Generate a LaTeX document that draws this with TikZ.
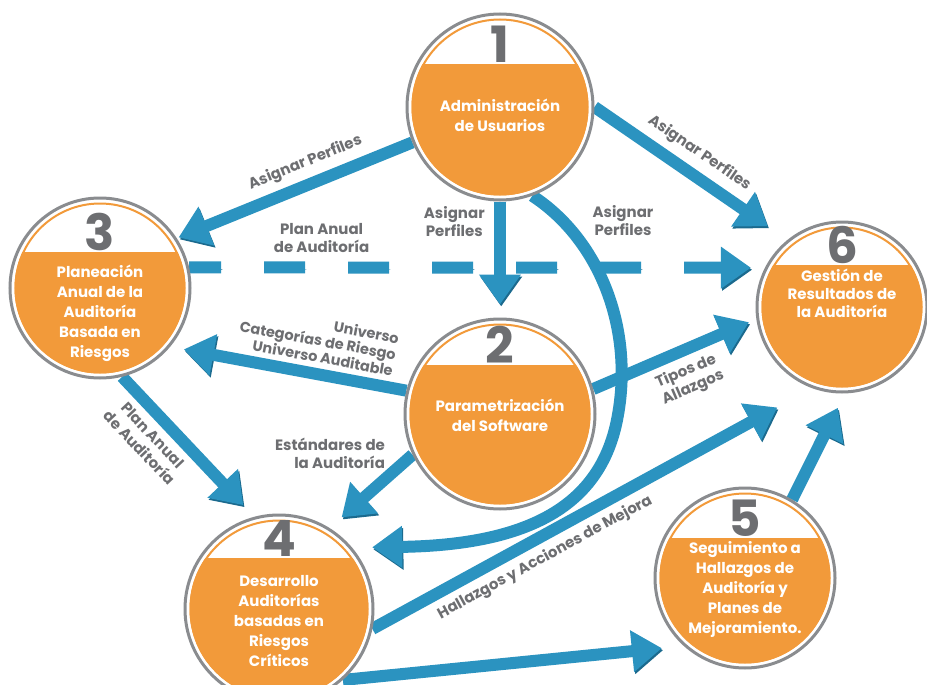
\documentclass[tikz,border=0pt]{standalone}
\usepackage{fontspec}
\setmainfont{Poppins}
\usetikzlibrary{arrows.meta, positioning, calc}
\pgfdeclarelayer{background}
\pgfsetlayers{background,main}
\definecolor{flowblue}{HTML}{2B93C0}
\definecolor{flowdark}{HTML}{1B6A8E}
\definecolor{stageorange}{HTML}{F29A3A}
\definecolor{ringgray}{HTML}{8A8C8F}
\definecolor{numgray}{HTML}{6D6E71}
\definecolor{labelgray}{HTML}{6D6E71}

\begin{document}
\begin{tikzpicture}[
        x=1pt, y=-1pt,
        stage/.style 2 args={
            circle,
            draw=ringgray,
            line width=3pt,
            fill=white,
            minimum size=2*#1,
            inner sep=0pt,
            path picture={
                \begin{scope}
                    \clip ([yshift=#2]path picture bounding box.west) rectangle (path picture bounding box.south east);
                    \fill[stageorange] (path picture bounding box.center) circle [radius=#1-4.5pt];
                \end{scope}
                \draw[stageorange, line width=2pt] (path picture bounding box.center) circle [radius=#1-5.5pt];
            }
        },
        stagenum/.style={
            font=\fontsize{50}{50}\selectfont\bfseries,
            text=numgray,
            anchor=base,
            inner sep=0pt
        },
        stagetext/.style={
            font=\fontsize{15}{20}\selectfont\bfseries,
            text=white,
            align=center
        },
        flow/.style={
            draw=flowblue,
            line width=12pt,
            -{Triangle[width=40pt, length=30pt]},
            preaction={draw=flowdark, transform canvas={shift={(1.2pt,-2pt)}}}
        },
        flowdash/.style={
            draw=flowblue,
            line width=12pt,
            dash pattern=on 41pt off 43pt,
            dash phase=9pt,
            -{Triangle[width=40pt, length=30pt]},
            preaction={draw=flowdark, dash pattern=on 41pt off 43pt, dash phase=9pt,
                transform canvas={shift={(1.2pt,-2pt)}}}
        },
        flowlabel/.style={
            font=\fontsize{15}{18}\selectfont\bfseries,
            text=labelgray,
            align=center
        }
    ]
        \useasboundingbox (0,0) rectangle (927,685);

        % --- STAGES ---
        \node[stage={93pt}{42pt}] (n1) at (500,107) {};
        \node[stage={95pt}{49pt}] (n2) at (500,414) {};
        \node[stage={90pt}{36pt}] (n3) at (100,288) {};
        \node[stage={94pt}{51pt}] (n4) at (279,609) {};
        \node[stage={90pt}{40pt}] (n5) at (745,578) {};
        \node[stage={85pt}{42pt}] (n6) at (842,307) {};

        % numbers
        \node[stagenum] (num1) at ([yshift=44pt]n1.center) {1};
        \node[stagenum] (num2) at ([yshift=51pt]n2.center) {2};
        \node[stagenum] (num3) at ([yshift=38pt]n3.center) {3};
        \node[stagenum] (num4) at ([yshift=53pt]n4.center) {4};
        \node[stagenum] (num5) at ([yshift=42pt]n5.center) {5};
        \node[stagenum] (num6) at ([yshift=44pt]n6.center) {6};

        % texts
        \node[stagetext] (txt1) at ([yshift=-8pt]n1.center) {Administración\\de Usuarios};
        \node[stagetext] (txt2) at ([yshift=-1pt]n2.center) {Parametrización\\del Software};
        \node[stagetext] (txt3) at ([yshift=-25pt]n3.center) {Planeación\\Anual de la\\Auditoría\\Basada en\\Riesgos};
        \node[stagetext] (txt4) at ([yshift=-12pt]n4.center) {Desarrollo\\Auditorías\\basadas en\\Riesgos\\Críticos};
        \node[stagetext] (txt5) at ([yshift=-11pt]n5.center) {Seguimiento a\\Hallazgos de\\Auditoría y\\Planes de\\Mejoramiento.};
        \node[stagetext, font=\fontsize{15}{18}\selectfont\bfseries] (txt6) at ([yshift=14pt]n6.center) {Gestión de\\Resultados de\\la Auditoría};

        % --- ARROWS ---
        \begin{pgfonlayer}{background}
            \fill[white] (0,0) rectangle (927,685);

            % 1 -> 3
            \draw[flow, shorten >=2pt] (n1.202) -- (n3.33)
                node[flowlabel, pos=0.42, sloped, above=4pt] {Asignar Perfiles};
            % 1 -> 6
            \draw[flow, shorten >=24pt] (n1.0) -- (n6.129)
                node[flowlabel, pos=0.48, sloped, above=4pt] {Asignar Perfiles};
            % 1 -> 2
            \draw[flow, shorten >=13pt] (n1.south) -- (n2.north)
                node[flowlabel, pos=0.17, left=6pt] {Asignar\\Perfiles};
            % 1 -> 4 (curved)
            \draw[flow, shorten >=20pt] (n1.-70) .. controls (600,240) and (635,330) .. (617,420)
                .. controls (600,505) and (530,545) .. (n4.40);
            \node[flowlabel] (lblD) at (623,221) {Asignar\\Perfiles};

            % 3 -> 6 (dashed)
            \draw[flowdash, shorten >=14pt] (n3.13) -- (n6.153)
                node[flowlabel, pos=0.23, above=6pt] {Plan Anual\\de Auditoría};

            % 2 -> 3
            \draw[flow, shorten >=14pt] (n2.166) -- (n3.-40)
                node[flowlabel, font=\fontsize{14.5}{16.5}\selectfont\bfseries, pos=0.4, sloped, above=2pt, align=right]
                {Universo\\Categorías de Riesgo\\Universo Auditable};
            % 3 -> 4
            \draw[flow, shorten >=16pt] (n3.-76) -- (n4.105)
                node[flowlabel, pos=0.33, sloped, below=3pt] {Plan Anual\\de Auditoría};
            % 2 -> 4
            \draw[flow, shorten >=16pt] (n2.205) -- (n4.58);
            \node[flowlabel, align=right] (lblG) at (330,453) {Estándares de\\la Auditoría};
            % 2 -> 6
            \draw[flow, shorten >=8pt] (n2.15) -- (n6.188)
                node[flowlabel, pos=0.52, sloped, below=3pt] {Tipos de\\Allazgos};
            % 4 -> 6
            \draw[flow, shorten >=40pt] (n4.-12) -- (n6.250)
                node[flowlabel, pos=0.37, sloped, below=3pt] {Hallazgos y Acciones de Mejora};
            % 4 -> 5
            \draw[flow, shorten >=22pt] (n4.-48) -- (n5.228);
            % 5 -> 6
            \draw[flow, shorten >=16pt] (n5.59) -- (n6.272);
        \end{pgfonlayer}
\end{tikzpicture}
\end{document}
